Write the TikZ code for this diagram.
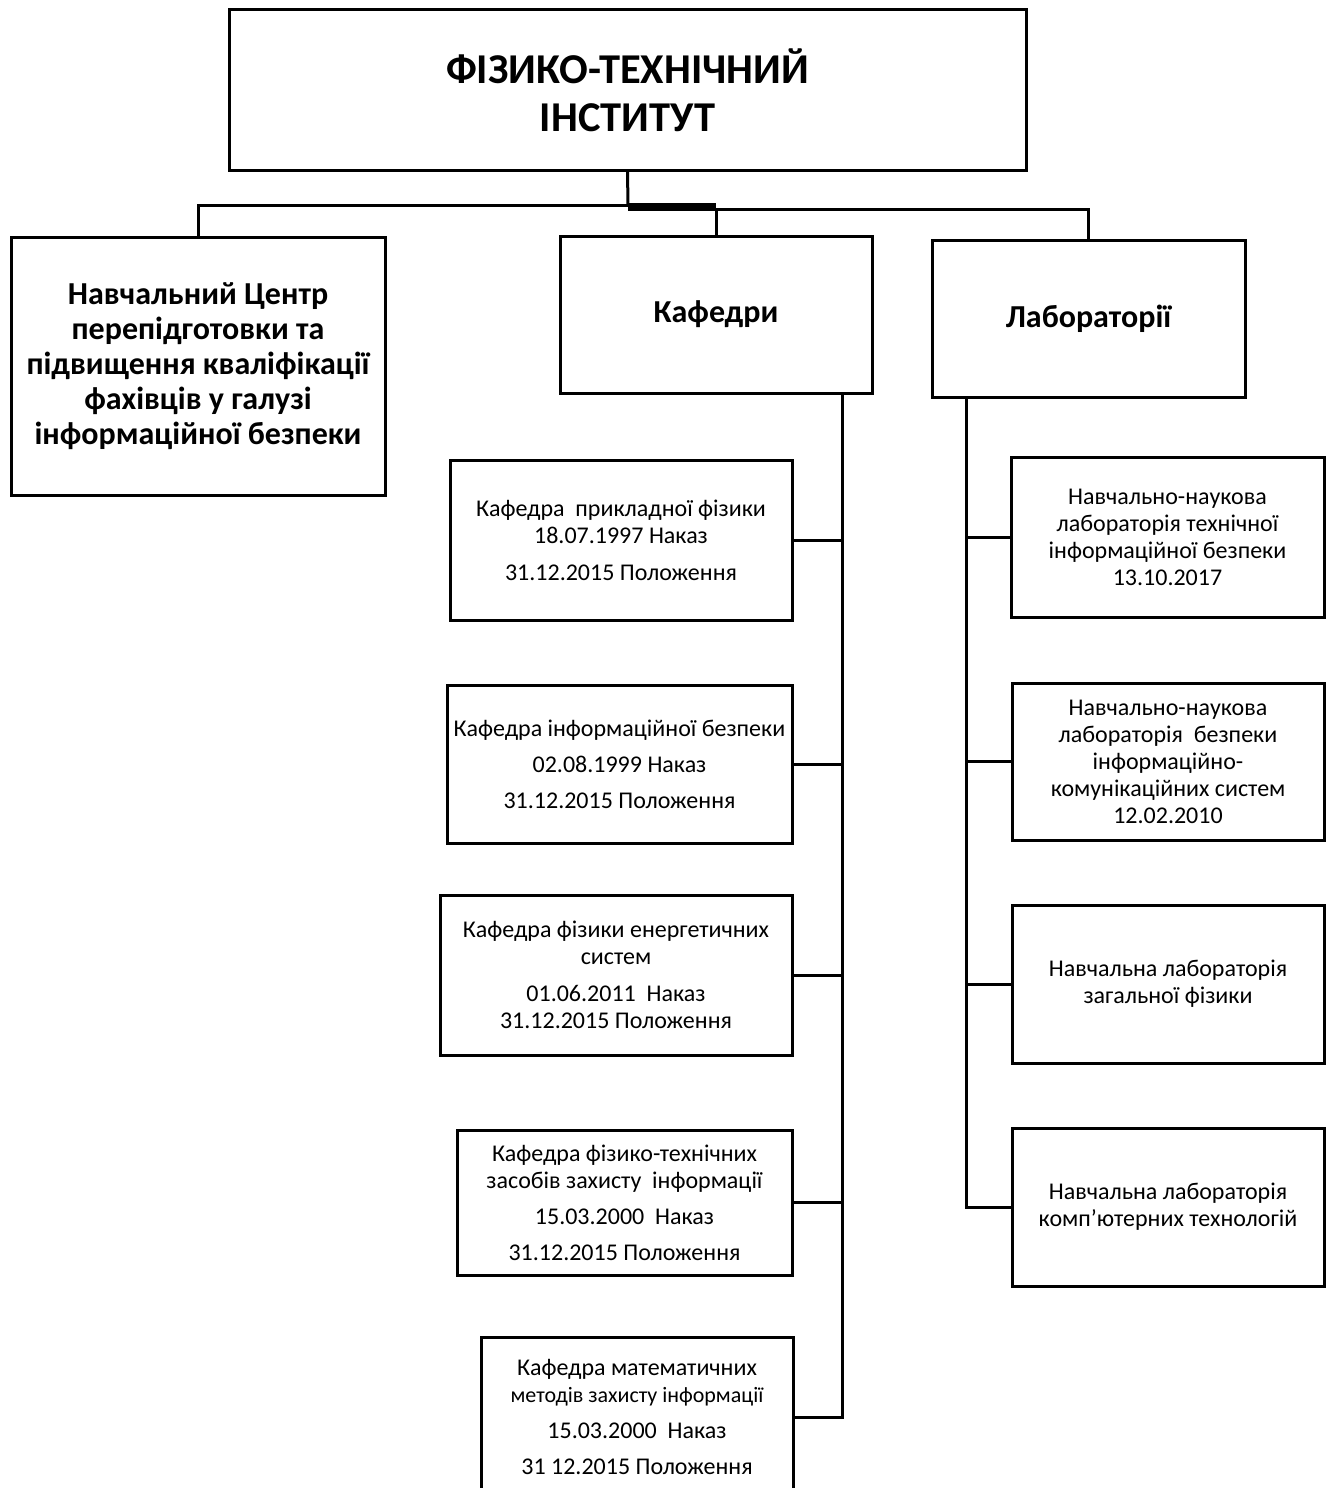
\documentclass[tikz,border=0pt]{standalone}
\usepackage{fontspec}
\setmainfont{Carlito}
\begin{document}
\begin{tikzpicture}[x=1pt,y=-1pt,
  box/.style={draw, line width=3pt, rectangle, inner sep=0pt, align=center},
  small/.style={font=\fontsize{24}{27}\selectfont},
  head/.style={font=\bfseries\fontsize{32}{35}\selectfont},
  titlef/.style={font=\bfseries\fontsize{42.5}{48}\selectfont},
  conn/.style={line width=3pt}]
\useasboundingbox (0,0) rectangle (1330,1488);

% top level
\node[box, titlef, minimum width=797pt, minimum height=160pt] (inst) at (627.5,90) {ФІЗИКО-ТЕХНІЧНИЙ\\ІНСТИТУТ};
\node[box, head, minimum width=374pt, minimum height=258pt] (centr) at (198,366) {Навчальний Центр\\перепідготовки та\\підвищення кваліфікації\\фахівців у галузі\\інформаційної безпеки};
\node[box, head, minimum width=312pt, minimum height=157pt] (kaf) at (716,314.5) {Кафедри};
\node[box, head, minimum width=313pt, minimum height=157pt] (lab) at (1088.5,318.5) {Лабораторії};

% departments
\node[box, small, minimum width=342pt, minimum height=160pt] (k1) at (621,540) {Кафедра\ \ прикладної фізики\\18.07.1997 Наказ\\[10pt]31.12.2015 Положення};
\node[box, small, minimum width=345pt, minimum height=158pt] (k2) at (619.5,764) {Кафедра інформаційної безпеки\\[9pt]02.08.1999 Наказ\\[9pt]31.12.2015 Положення};
\node[box, small, minimum width=352pt, minimum height=160pt] (k3) at (616,975) {Кафедра фізики енергетичних\\систем\\[10pt]01.06.2011\ \ Наказ\\31.12.2015 Положення};
\node[box, small, minimum width=335pt, minimum height=145pt] (k4) at (624.5,1202.5) {Кафедра фізико-технічних\\засобів захисту\ \ інформації\\[9pt]15.03.2000\ \ Наказ\\[9pt]31.12.2015 Положення};
\node[box, small, minimum width=312pt, minimum height=160pt] (k5) at (637,1417) {Кафедра математичних\\{\fontsize{22}{24}\selectfont методів захисту інформації}\\[9pt]15.03.2000\ \ Наказ\\[9pt]31 12.2015 Положення};

% laboratories
\node[box, small, minimum width=313pt, minimum height=160pt] (l1) at (1167.5,537) {Навчально-наукова\\лабораторія технічної\\інформаційної безпеки\\13.10.2017};
\node[box, small, minimum width=312pt, minimum height=157pt] (l2) at (1168,761.5) {Навчально-наукова\\лабораторія\ \ безпеки\\інформаційно-\\комунікаційних систем\\12.02.2010};
\node[box, small, minimum width=312pt, minimum height=158pt] (l3) at (1168,984) {Навчальна лабораторія\\загальної фізики};
\node[box, small, minimum width=312pt, minimum height=158pt] (l4) at (1168,1207) {Навчальна лабораторія\\комп'ютерних технологій};

% top connectors
\coordinate (jl) at (628,205);
\coordinate (jr) at (716,209);
\coordinate (ja) at (628,203);
\coordinate (jb) at (716,211);
\draw[conn] (inst.south) -- (jl);
\draw[conn] (centr.north) |- (jl);
\fill (ja) rectangle (jb);
\draw[conn] (jr) -- (kaf.north);
\draw[conn] (jr) -| (lab.north);

% department spine
\coordinate (ks) at (842,0);
\draw[conn] (kaf.south -| ks) -- (k5.east -| ks) -- (k5.east);
\foreach \k in {k1,k2,k3,k4}{\draw[conn] (\k.east) -- (\k.east -| ks);}

% lab spine
\coordinate (ls) at (966,0);
\draw[conn] (lab.south -| ls) |- (l4.west);
\foreach \l in {l1,l2,l3}{\draw[conn] (\l.west -| ls) -- (\l.west);}
\end{tikzpicture}
\end{document}
